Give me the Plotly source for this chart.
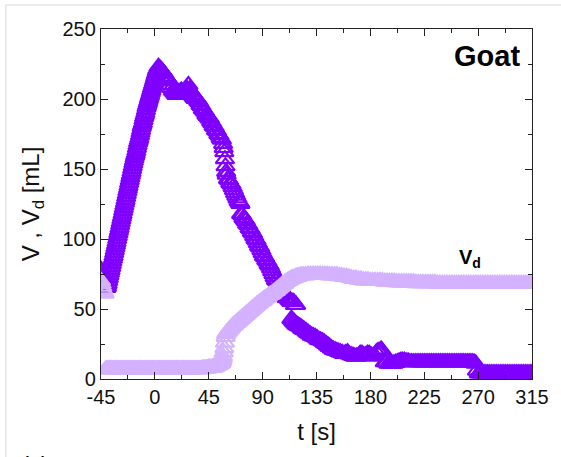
import plotly.graph_objects as go

# ---- data ----
t_V = [-45, -44.5, -44, -43.5, -43, -42.5, -42, -41.5, -41, -40.5, -40, -39.5, -39, -38.5,
       -38, -37.5, -37, -36.5, -36, -35.5, -35, -34.5, -34, -33.5, -33, -32.5, -32, -31.5,
       -31, -30.5, -30, -29.5, -29, -28.5, -28, -27.5, -27, -26.5, -26, -25.5, -25, -24.5,
       -24, -23.5, -23, -22.5, -22, -21.5, -21, -20.5, -20, -19.5, -19, -18.5, -18, -17.5,
       -17, -16.5, -16, -15.5, -15, -14.5, -14, -13.5, -13, -12.5, -12, -11.5, -11, -10.5,
       -10, -9.5, -9, -8.5, -8, -7.5, -7, -6.5, -6, -5.5, -5, -4.5, -4, -3.5, -3, -2.5,
       -2, -1.5, -1, -0.5, 0, 0.5, 1, 1.5, 2, 3, 4,
       5, 6, 7, 8, 9, 10, 11, 12, 13, 14, 15, 16, 17, 18, 19, 20, 21, 22, 23, 24, 25, 26,
       27, 28, 29, 30, 31, 32, 33, 34, 35, 36, 37, 38, 39, 40, 41, 42, 43, 44, 45, 46, 47,
       48, 49, 50, 51, 52, 53, 54, 55, 56, 57, 57.5, 58, 58.5, 59, 59.5, 60, 61, 62, 63,
       64, 65, 66, 67, 68, 69, 70, 71, 71.5, 72, 73, 74, 75, 76, 77, 78, 79, 80, 81, 82,
       83, 84, 85, 86, 87, 88, 89, 90, 91, 92, 93, 94, 95, 96, 97, 98, 99, 100, 101, 102,
       103, 104, 105, 106, 107, 108, 109, 110, 111, 112, 113, 114, 115, 116, 117, 118,
       114, 115, 116, 117, 118, 119, 120, 121, 122, 123, 124, 125, 126.5, 128, 129.5, 131,
       132.5, 134, 135.5, 137, 138.5, 140, 141.5, 143, 144.5, 146, 147.5, 149, 150.5, 152,
       153.5, 155, 156.5, 158, 159.5, 161, 162.5, 164, 165.5, 167, 168.5, 170, 171.5, 173,
       174.5, 176, 177.5, 179, 180.5, 182, 183.5, 185, 186.5, 188, 189, 190,
       192, 193.5, 195, 196.5, 198, 199.5, 201, 202.5, 204, 205.5, 207, 208.5, 210, 211.5,
       213, 214.5, 216, 217.5, 219, 220.5, 222, 223.5, 225, 226.5, 228, 229.5, 231, 232.5,
       234, 235.5, 237, 238.5, 240, 241.5, 243, 244.5, 246, 247.5, 249, 250.5, 252, 253.5,
       255, 256.5, 258, 259.5, 261, 262.5, 264, 265.5, 267, 268,
       269, 270.5, 272, 273.5, 275, 276.5, 278, 279.5, 281, 282.5, 284, 285.5, 287, 288.5,
       290, 291.5, 293, 294.5, 296, 297.5, 299, 300.5, 302, 303.5, 305, 306.5, 308, 309.5,
       311, 312.5, 314, 315]
V = [78, 76, 74, 72, 70, 68, 67, 66, 65, 65, 66, 68, 70, 72, 74, 76, 78, 80, 82, 84, 86,
     88, 90, 92, 94, 96, 98, 100, 102, 104, 106, 108, 110, 112, 114, 116, 118, 120, 122,
     124, 126, 128, 130, 132, 134, 136, 138, 140, 142, 144, 146, 148, 150, 152, 154, 156,
     158, 159.5, 161, 163, 165, 167, 169, 170.5, 172, 174, 176, 178, 180, 181.5, 183, 185,
     187, 188.5, 190, 192, 194, 195.5, 197, 198.5, 200, 201.5, 203, 204.5, 206, 207.5, 209,
     210.5, 212, 213.5, 215, 216.5, 218, 219.5, 221, 223, 222,
     221, 220, 219, 218, 216, 215, 214, 213, 210, 208, 206, 205, 204, 203, 204, 205, 205,
     206, 205, 204, 205, 206,
     207, 210, 207, 205, 203, 202, 201, 200, 200, 199, 198, 196, 195, 193, 192, 191, 189,
     188, 187, 186, 184, 183, 181, 180, 178, 177, 175, 174, 172, 171, 168, 165, 162, 157,
     152, 148, 146, 143, 142, 140,
     139, 137, 135, 133, 131, 129, 127, 126, 125, 118, 117, 115, 114, 113, 111, 110, 108,
     107, 105, 104,
     102, 100, 99, 97, 95, 94, 92, 90, 88, 87, 85, 84, 82, 81, 79, 77, 75, 73, 71, 70,
     68, 67, 65, 64, 62, 61, 60, 58, 58, 57, 56, 55, 55, 55, 53, 53,
     43, 42, 41, 40, 39, 38.5, 38, 37.5, 37, 36, 35.5, 35, 34, 33, 32, 31,
     30.5, 30, 29, 28, 27.5, 27, 26, 25, 24, 23, 22, 21, 20.5, 20,
     19.5, 19, 18.5, 18, 18.5, 19, 17.5, 17, 16.5, 16, 16, 16.5, 18, 18,
     17, 17, 18, 18, 17, 16, 17, 19, 20, 20, 21, 20,
     12, 12, 11, 11, 11, 11, 11.5, 12, 12.5, 13, 13, 13, 12.5, 12.5,
     12, 12, 12, 12, 12, 12, 12, 12, 12, 12, 12, 12, 12, 12,
     12, 12, 12, 12, 12, 12, 12, 12, 12, 12, 12, 12, 12, 12,
     12, 12, 12, 12, 12, 12, 12, 12, 11.5, 11,
     6, 4, 4, 4, 4, 4, 4, 4, 4, 4, 4, 4, 4, 4,
     4, 4, 4, 4, 4, 4, 4, 4, 4, 4, 4, 4, 4, 4,
     4, 4, 4, 4]

t_Vd = [-45, -44.5, -44, -43.5, -43, -42.5, -42,
        -41, -40, -39, -38, -37, -36, -35, -34, -33, -32, -31, -30, -29, -28, -27, -26,
        -25, -24, -23, -22, -21, -20, -19, -18, -17, -16, -15, -14, -13, -12, -11, -10,
        -9, -8, -7, -6, -5, -4, -3, -2, -1, 0, 1, 2, 3, 4, 5, 6, 7, 8, 9, 10, 11, 12, 13,
        14, 15, 16, 17, 18, 19, 20, 21, 22, 23, 24, 25, 26, 27, 28, 29, 30, 31, 32, 33,
        34, 35, 36, 37, 38, 39, 40, 41, 42, 43, 44, 45, 46, 47, 48, 49, 50, 51, 52, 53,
        54, 55, 55.5, 56, 56.5, 57, 57.5, 58, 58.5, 59, 59.5, 60, 61, 62, 63, 64, 65, 66,
        67, 68, 69, 70, 71, 72, 73, 74, 75, 76, 77, 78, 79, 80, 81, 82, 83, 84, 85, 86,
        87, 88, 89, 90, 91, 92, 93, 94, 95, 96, 97, 98, 99, 100, 101, 102, 103, 104, 105,
        106, 107, 108, 109, 110, 111, 112, 113, 114, 115, 116, 117, 118, 119, 120, 122,
        124, 126, 128, 130, 132, 134, 136, 138, 140, 142, 144, 146, 148, 150, 152, 154,
        156, 158, 160, 162, 164, 166, 168, 170, 172, 174, 176, 178, 180, 182, 184, 186,
        188, 190, 192, 194, 196, 198, 200, 202, 204, 206, 208, 210, 212, 214, 216, 218,
        220, 222, 224, 226, 228, 230, 232, 234, 236, 238, 240, 242, 244, 246, 248, 250,
        252, 254, 256, 258, 260, 262, 264, 266, 268, 270, 272, 274, 276, 278, 280, 282,
        284, 286, 288, 290, 292, 294, 296, 298, 300, 302, 304, 306, 308, 310, 312, 314, 315]
Vd = [70, 68, 66, 64, 63, 62, 61,
      7, 7, 7, 7, 7, 7, 7, 7, 7, 7, 7, 7, 7, 7, 7, 7,
      7, 7, 7, 7, 7, 7, 7, 7, 7, 7, 7, 7, 7, 7, 7, 7,
      7, 7, 7, 7, 7, 7, 7, 7, 7, 7, 7, 7, 7, 7, 7, 7, 7, 7, 7, 7, 7, 7, 7,
      7, 7, 7, 7, 7, 7, 7, 7, 7, 7, 7, 7, 7, 7, 7, 7, 7, 7, 7, 7, 7, 7,
      7, 7, 7, 7, 7.5, 7.5, 7.5, 7.5, 7.5, 8, 8, 8, 8, 8.5, 8.5, 9, 9.5, 10, 10.5, 11,
      11.5, 12.5, 14, 16, 19, 22, 26, 30, 32, 33, 34, 35, 36, 37, 38, 38.5, 39.5, 40,
      41, 41.5, 42.5, 43, 44, 44.5, 45.5, 46, 47, 47.5, 48.5, 49, 50, 50.5, 51.5, 52, 53, 53.5,
      54, 55, 55.5, 56, 57, 57.5, 58, 58.5, 59.5, 60, 60.5, 61, 62, 62.5, 63, 64, 64.5, 65.5, 66,
      67, 67.5, 68, 69, 69.5, 70, 70.5, 71, 71.5, 72, 72, 72.5, 73, 73, 73.5, 74,
      74, 74, 74.5, 74.5, 74.5, 74.5, 74.5, 74.5, 74.5, 74.5, 74.5, 74, 74, 74, 74, 73.5,
      73.5, 73, 73, 72.5, 72, 71.5, 71.5, 71, 71, 70.5, 70.5, 70.5, 70, 70, 70, 70,
      70, 70, 69.5, 69.5, 69.5, 69.5, 69.5, 69, 69, 69, 69, 69, 69, 69, 69, 68.5,
      68.5, 68.5, 68.5, 68.5, 68.5, 68.5, 68.5, 68.5, 68, 68, 68, 68, 68, 68, 68, 68,
      68, 68, 68, 68, 68, 68, 68, 68, 68, 68, 68, 68, 68, 68, 68, 68,
      68, 68, 68, 68, 68, 68, 68, 68, 68, 68, 68, 68, 68, 68, 68, 68, 68]

x_ticks = [-45, 0, 45, 90, 135, 180, 225, 270, 315]
y_ticks = [0, 50, 100, 150, 200, 250]

C_V = "#7f00ff"
C_VD = "#d4b2ff"
FONT = "Liberation Sans, Arial, sans-serif"

fig = go.Figure()
fig.add_trace(go.Scatter(x=t_V, y=V, mode="markers", name="V",
                         marker=dict(symbol="triangle-up-open", size=16,
                                     color=C_V, line=dict(width=2.2, color=C_V)),
                         cliponaxis=True))
fig.add_trace(go.Scatter(x=t_Vd, y=Vd, mode="markers", name="Vd",
                         marker=dict(symbol="triangle-up-open", size=16,
                                     color=C_VD, line=dict(width=2.2, color=C_VD)),
                         cliponaxis=True))

axis_common = dict(showline=True, linecolor="#222", linewidth=1.3, mirror="ticks",
                   ticks="inside", ticklen=7, tickwidth=1.2, tickcolor="#222",
                   showgrid=False, zeroline=False,
                   tickfont=dict(family=FONT, size=20, color="#111"))

fig.update_layout(
    width=561, height=457,
    margin=dict(l=101, r=25, t=29, b=78),
    paper_bgcolor="white", plot_bgcolor="white",
    showlegend=False,
    font=dict(family=FONT, color="#111"),
    xaxis=dict(range=[-45, 315], tickvals=x_ticks, ticktext=[str(v) for v in x_ticks],
               title=dict(text="t [s]", font=dict(family=FONT, size=24), standoff=16),
               minor=dict(ticks="inside", ticklen=4, dtick=22.5, tick0=-45,
                          tickcolor="#222", tickwidth=1.2),
               **axis_common),
    yaxis=dict(range=[0, 250], tickvals=y_ticks, ticktext=[str(v) for v in y_ticks],
               title=dict(text="V , V<sub>d</sub> [mL]", font=dict(family=FONT, size=24),
                          standoff=16),
               minor=dict(ticks="inside", ticklen=4, dtick=25, tick0=0,
                          tickcolor="#222", tickwidth=1.2),
               **axis_common),
    annotations=[
        dict(text="<b>Goat</b>", x=1, y=1, xref="paper", yref="paper",
             xanchor="right", yanchor="top", xshift=-10, yshift=-9, showarrow=False,
             font=dict(family=FONT, size=29, color="#000")),
        dict(text="<b>V<sub>d</sub></b>", x=252, y=86, xref="x", yref="y",
             xanchor="left", yanchor="middle", showarrow=False,
             font=dict(family=FONT, size=20, color="#000")),
        dict(text="(c)", x=-0.19, y=-0.2, xref="paper", yref="paper",
             xanchor="left", yanchor="top", showarrow=False,
             font=dict(family=FONT, size=24, color="#000")),
    ],
    shapes=[
        dict(type="line", xref="paper", yref="paper", x0=-0.2207, x1=1.1, y0=1.0686, y1=1.0686,
             line=dict(color="#d8d8d8", width=1)),
        dict(type="line", xref="paper", yref="paper", x0=-0.2207, x1=-0.2207, y0=1.0686, y1=-0.3,
             line=dict(color="#d8d8d8", width=1)),
    ],
)

fig.write_html("out.html")
